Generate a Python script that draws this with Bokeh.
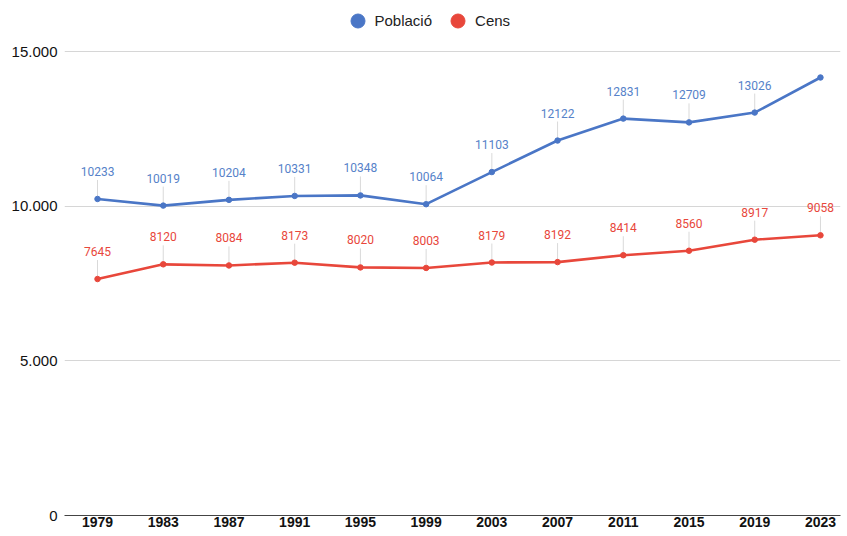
from bokeh.plotting import figure
from bokeh.models import ColumnDataSource, LabelSet, Legend, LegendItem, FixedTicker, Range1d
from bokeh.core.properties import value
from bokeh.embed import file_html
from bokeh.resources import INLINE

# ---- data ----
years = [1979, 1983, 1987, 1991, 1995, 1999, 2003, 2007, 2011, 2015, 2019, 2023]
poblacio = [10233, 10019, 10204, 10331, 10348, 10064, 11103, 12122, 12831, 12709, 13026, 14160]
poblacio_show = [True] * 11 + [False]
cens = [7645, 8120, 8084, 8173, 8020, 8003, 8179, 8192, 8414, 8560, 8917, 9058]
cens_show = [True] * 12
y_ticks = [0, 5000, 10000, 15000]
y_tick_labels = ["0", "5.000", "10.000", "15.000"]
series_names = ["Població", "Cens"]

# ---- layout ----
W, H = 847, 536
BORDER_L, BORDER_R, BORDER_T, BORDER_B = 64, 7, 0, 21
frame_h = H - BORDER_T - BORDER_B
x_range = Range1d(1976.99, 2024.22)
y_range = Range1d(0, 16649)
units_per_px = (y_range.end - y_range.start) / frame_h

BLUE = "#4a76c6"
BLUE_TXT = "#5682c9"
RED = "#e8473b"
RED_TXT = "#e8473b"

p = figure(width=W, height=H, x_range=x_range, y_range=y_range,
           output_backend="svg", toolbar_location=None,
           min_border_left=BORDER_L, min_border_right=BORDER_R,
           min_border_top=BORDER_T, min_border_bottom=BORDER_B)
p.outline_line_color = None
p.background_fill_color = "white"

# axes
p.xaxis.ticker = FixedTicker(ticks=years)
p.xaxis.major_label_text_font = "Liberation Sans"
p.xaxis.major_label_text_font_style = "bold"
p.xaxis.major_label_text_font_size = "14px"
p.xaxis.major_label_text_color = "#111111"
p.xaxis.major_tick_out = 0
p.xaxis.major_tick_in = 0
p.xaxis.minor_tick_out = 0
p.xaxis.minor_tick_in = 0
p.xaxis.axis_line_color = "#444444"
p.xaxis.axis_line_width = 1
p.xaxis.major_label_standoff = 1

p.yaxis.ticker = FixedTicker(ticks=y_ticks)
p.yaxis.major_label_overrides = {t: l for t, l in zip(y_ticks, y_tick_labels)}
p.yaxis.major_label_text_font = "Liberation Sans"
p.yaxis.major_label_text_font_size = "15px"
p.yaxis.major_label_text_color = "#111111"
p.yaxis.major_tick_out = 0
p.yaxis.major_tick_in = 0
p.yaxis.minor_tick_out = 0
p.yaxis.minor_tick_in = 0
p.yaxis.axis_line_color = None
p.yaxis.major_label_standoff = 7

p.xgrid.grid_line_color = None
p.ygrid.grid_line_color = "#d6d6d6"
p.ygrid.grid_line_width = 1

def add_series(vals, show, color, txt_color):
    xs = [x for x, s in zip(years, show) if s]
    vs = [v for v, s in zip(vals, show) if s]
    lab = ColumnDataSource(dict(x=xs, y=vs,
                                y1=[v + 19 * units_per_px for v in vs],
                                y0=[v + 3 * units_per_px for v in vs],
                                t=[str(v) for v in vs]))
    p.segment(x0="x", y0="y0", x1="x", y1="y1", source=lab,
              line_color="#d9d9d9", line_width=1)
    src = ColumnDataSource(dict(x=years, y=vals))
    p.line("x", "y", source=src, line_color=color, line_width=2.6)
    r = p.scatter("x", "y", source=src, size=5.5, fill_color=color, line_color=color)
    p.add_layout(LabelSet(x="x", y="y", text="t", source=lab, y_offset=23,
                          text_align="center", text_baseline="bottom",
                          text_font=value("Roboto"), text_font_size="12px",
                          text_color=txt_color))
    return r

r_r = add_series(cens, cens_show, RED, RED_TXT)
r_b = add_series(poblacio, poblacio_show, BLUE, BLUE_TXT)

legend = Legend(items=[LegendItem(label=series_names[0], renderers=[r_b]),
                       LegendItem(label=series_names[1], renderers=[r_r])],
                location=(275.5, frame_h - 37.5), orientation="horizontal",
                glyph_width=35, glyph_height=35, label_height=35,
                label_standoff=0, spacing=8, padding=0, margin=0,
                border_line_color=None, background_fill_alpha=0,
                label_text_font="Liberation Sans", label_text_font_size="15px",
                label_text_color="#222222")
p.add_layout(legend, "center")

open("out.html", "w").write(file_html(p, INLINE))
